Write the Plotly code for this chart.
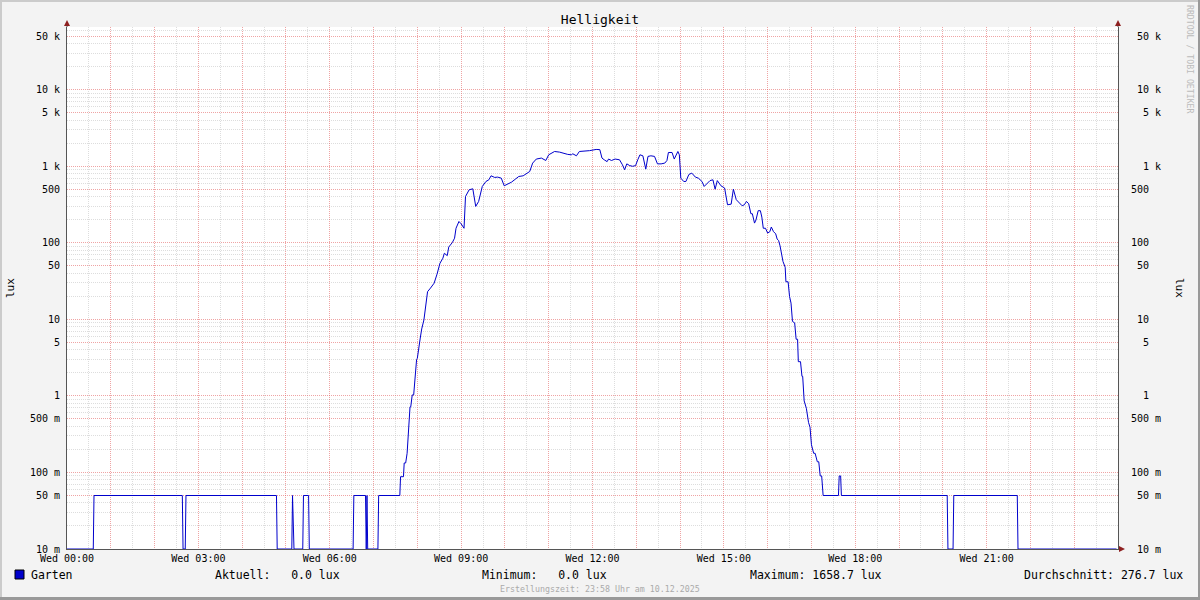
import numpy as np
import pandas as pd
import plotly.graph_objects as go

# Helligkeit (lux), Garten sensor, Wed 10.12.2025
DAY = "2025-12-10"
TIMES = [
    "00:00", "00:36", "00:37", "02:38", "02:39", "02:42", "02:43", "04:47", "04:48",
    "05:08", "05:09", "05:11", "05:23", "05:24", "05:31", "05:32", "06:32", "06:33",
    "06:49", "06:50", "06:51", "06:52", "07:06", "07:07", "07:36", "07:37", "07:41",
    "07:42", "07:44", "07:46", "07:50", "07:51", "07:53", "07:55", "07:59", "08:00",
    "08:04", "08:06", "08:09", "08:12", "08:14", "08:18", "08:23", "08:27", "08:31",
    "08:35", "08:37", "08:41", "08:43", "08:48", "08:51", "08:53", "08:57", "09:00",
    "09:04", "09:06", "09:11", "09:16", "09:20", "09:24", "09:29", "09:34", "09:38",
    "09:41", "09:46", "09:50", "09:55", "09:59", "10:04", "10:09", "10:15", "10:19",
    "10:25", "10:30", "10:34", "10:38", "10:43", "10:50", "10:56", "11:00", "11:08",
    "11:15", "11:22", "11:26", "11:31", "11:33", "11:38", "11:42", "11:56", "12:05",
    "12:10", "12:13", "12:16", "12:20", "12:22", "12:26", "12:31", "12:37", "12:41",
    "12:44", "12:47", "12:51", "12:55", "12:59", "13:02", "13:05", "13:09", "13:13",
    "13:16", "13:20", "13:25", "13:29", "13:34", "13:39", "13:42", "13:44", "13:49",
    "13:52", "13:57", "13:59", "14:01", "14:05", "14:08", "14:12", "14:16", "14:21",
    "14:25", "14:30", "14:33", "14:38", "14:41", "14:45", "14:48", "14:51", "14:56",
    "15:01", "15:05", "15:10", "15:13", "15:17", "15:21", "15:25", "15:28", "15:31",
    "15:34", "15:37", "15:39", "15:42", "15:44", "15:47", "15:50", "15:52", "15:54",
    "15:57", "16:00", "16:03", "16:05", "16:08", "16:11", "16:13", "16:15", "16:17",
    "16:21", "16:24", "16:25", "16:28", "16:30", "16:32", "16:34", "16:37", "16:39",
    "16:41", "16:42", "16:45", "16:47", "16:48", "16:50", "16:53", "16:56", "16:58",
    "17:00", "17:03", "17:05", "17:08", "17:10", "17:12", "17:14", "17:16", "17:37",
    "17:38", "17:40", "17:41", "20:06", "20:07", "20:14", "20:15", "21:42", "21:43",
    "23:58",
]
LUX = [
    0, 0, 0.05, 0.05, 0, 0, 0.05, 0.05, 0,
    0, 0.05, 0, 0, 0.05, 0.05, 0, 0, 0.05,
    0.05, 0, 0.05, 0, 0, 0.05, 0.05, 0.088, 0.088,
    0.133, 0.133, 0.178, 0.72, 0.72, 1.03, 1.03, 3.0, 3.1,
    5.7, 7.5, 9.8, 18, 23, 25.6, 29.7, 39, 54,
    63, 73, 68, 88, 101, 115, 155, 190, 177,
    155, 403, 493, 508, 299, 347, 545, 633, 666,
    751, 715, 722, 700, 556, 590, 620, 687, 736,
    751, 815, 855, 1100, 1243, 1280, 1190, 1412, 1560,
    1530, 1455, 1430, 1412, 1455, 1370, 1560, 1600, 1658.7,
    1650, 1280, 1216, 1150, 1243, 1190, 1243, 1216, 1048,
    900, 1075, 1020, 1000, 1020, 1216, 1412, 1370, 918,
    1345, 1370, 1345, 1075, 1075, 1100, 1190, 1514, 1514,
    1243, 1560, 1412, 700, 633, 633, 780, 815, 722,
    700, 633, 545, 610, 650, 666, 502, 650, 556,
    520, 314, 320, 502, 366, 336, 305, 314, 347,
    324, 240, 240, 181, 199, 263, 263, 217, 155,
    155, 134, 140, 161, 140, 131, 112, 107, 91,
    57, 48, 31, 31, 19.9, 16.3, 9.4, 9.0, 5.5,
    5.5, 2.8, 2.8, 1.8, 1.8, 0.86, 0.69, 0.45, 0.39,
    0.23, 0.178, 0.178, 0.138, 0.138, 0.09, 0.09, 0.05, 0.05,
    0.09, 0.09, 0.05, 0.05, 0, 0, 0.05, 0.05, 0,
    0,
]

X_TICK_HOURS = list(range(24))
Y_TICKS = [0.01, 0.05, 0.1, 0.5, 1, 5, 10, 50, 100, 500, 1000, 5000, 10000, 50000]
Y_LABELS = ["10 m", "50 m", "100 m", "500 m", "1", "5", "10", "50",
            "100", "500", "1 k", "5 k", "10 k", "50 k"]
Y_RANGE_MAX = 66000

FONT = "DejaVu Sans Mono"
LINE_BLUE = "#0000CC"
MGRID = "rgba(225,90,90,0.55)"
GRID = "rgba(180,180,180,0.45)"
DOTS = "1px,1px"
AXIS = "#555555"
ARROW = "#8E2020"

# plot area in pixels
L, R, T, B = 67, 82, 27, 51
PW, PH = 1200 - L - R, 600 - T - B


def px(x):
    return (x - L) / PW


def py(y):
    return (600 - B - y) / PH


times = pd.to_datetime([f"{DAY} {t}" for t in TIMES])
lux = np.array(LUX, dtype=float)
lux_plot = np.maximum(lux, Y_TICKS[0])  # zero sits on the bottom edge

day0 = pd.Timestamp(DAY)
tickvals = [day0 + pd.Timedelta(hours=h) for h in X_TICK_HOURS]
ticktext = [(day0 + pd.Timedelta(hours=h)).strftime("%a %H:%M") if h % 3 == 0 else ""
            for h in X_TICK_HOURS]
minor_x = [day0 + pd.Timedelta(minutes=30 + 60 * h) for h in X_TICK_HOURS]

minor_y = [m * 10.0 ** e for e in range(-2, 5) for m in (2, 3, 4, 6, 7, 8, 9)
           if m * 10.0 ** e < Y_RANGE_MAX]


def pad(lbl):
    num = lbl.split(" ")[0]
    return "\u00a0" * (3 - len(num)) + lbl.replace(" ", "\u00a0")


fig = go.Figure()
fig.add_trace(go.Scatter(
    x=times, y=lux_plot, mode="lines",
    line=dict(color=LINE_BLUE, width=1),
    name="Garten", showlegend=False,
    hovertemplate="%{x|%H:%M}: %{y} lux<extra></extra>",
))
fig.add_trace(go.Scatter(
    x=times, y=lux_plot, mode="lines", yaxis="y2",
    line=dict(color="rgba(0,0,0,0)", width=0),
    showlegend=False, hoverinfo="skip",
))

yaxis_common = dict(
    type="log",
    range=[np.log10(Y_TICKS[0]), np.log10(Y_RANGE_MAX)],
    tickvals=Y_TICKS,
    ticks="",
    tickfont=dict(family=FONT, size=10, color="#000"),
    showline=True, linecolor=AXIS, linewidth=1,
    zeroline=False, fixedrange=True,
)

fig.update_layout(
    width=1200, height=600,
    margin=dict(l=L, r=R, t=T, b=B, pad=0),
    paper_bgcolor="#F3F3F3",
    plot_bgcolor="#FFFFFF",
    showlegend=False,
    title=dict(text="Helligkeit", x=0.5, xref="container", xanchor="center",
               y=1 - 19 / 600, yref="container", yanchor="middle",
               font=dict(family=FONT, size=13, color="#000")),
    xaxis=dict(
        type="date",
        range=[day0, day0 + pd.Timedelta(hours=24)],
        tickmode="array", tickvals=tickvals, ticktext=ticktext,
        ticks="", tickfont=dict(family=FONT, size=10, color="#000"),
        showgrid=True, gridcolor=MGRID, griddash=DOTS, gridwidth=1,
        minor=dict(tickmode="array", tickvals=minor_x, showgrid=True,
                   gridcolor=GRID, griddash=DOTS, gridwidth=1),
        showline=True, linecolor=AXIS, linewidth=1,
        zeroline=False, fixedrange=True,
    ),
    yaxis=dict(
        **yaxis_common,
        ticktext=Y_LABELS,
        ticklabelstandoff=4,
        showgrid=True, gridcolor=MGRID, griddash=DOTS, gridwidth=1,
        minor=dict(tickvals=minor_y, showgrid=True, gridcolor=GRID,
                   griddash=DOTS, gridwidth=1),
    ),
    yaxis2=dict(
        **yaxis_common,
        ticktext=[pad(s) for s in Y_LABELS],
        overlaying="y", side="right",
        ticklabelstandoff=10,
        showgrid=False,
    ),
)

shapes = []
# 3d frame around the image
for x0, y0, x1, y1, c in [
    (0, 0, 1200, 2, "#CBCBCB"), (0, 0, 2, 600, "#CBCBCB"),
    (0, 597, 1200, 600, "#999999"), (1198, 0, 1200, 600, "#999999"),
]:
    shapes.append(dict(type="rect", xref="paper", yref="paper",
                       x0=px(x0), x1=px(x1), y0=py(y0), y1=py(y1),
                       fillcolor=c, line_width=0, layer="above"))

# axis arrows
for ax in (L, 1200 - R):
    shapes.append(dict(type="line", xref="paper", yref="paper",
                       x0=px(ax), x1=px(ax), y0=py(T), y1=py(T - 2),
                       line=dict(color=AXIS, width=1)))
    shapes.append(dict(type="path", xref="paper", yref="paper",
                       path=f"M{px(ax - 3)},{py(26)} L{px(ax + 3)},{py(26)} "
                            f"L{px(ax)},{py(20)} Z",
                       fillcolor=ARROW, line_width=0))
shapes.append(dict(type="line", xref="paper", yref="paper",
                   x0=px(1200 - R), x1=px(1121), y0=0, y1=0,
                   line=dict(color=AXIS, width=1)))
shapes.append(dict(type="path", xref="paper", yref="paper",
                   path=f"M{px(1119)},{py(546)} L{px(1119)},{py(552)} "
                        f"L{px(1125)},{py(549)} Z",
                   fillcolor=ARROW, line_width=0))

# legend swatch
shapes.append(dict(type="rect", xref="paper", yref="paper",
                   x0=px(15), x1=px(24), y0=py(579), y1=py(570),
                   fillcolor=LINE_BLUE, line=dict(color="#000", width=1)))
fig.update_layout(shapes=shapes)


def note(text, x, y, size=11.5, color="#000", anchor="left", angle=0):
    fig.add_annotation(text=text, xref="paper", yref="paper", x=px(x), y=py(y),
                       xanchor=anchor, yanchor="middle", showarrow=False,
                       textangle=angle,
                       font=dict(family=FONT, size=size, color=color))


nb = "\u00a0"
note("Garten", 29, 575)
note(f"Aktuell:{nb * 3}0.0{nb}lux", 213, 575)
note(f"Minimum:{nb * 3}0.0{nb}lux", 480, 575)
note(f"Maximum:{nb}1658.7{nb}lux", 748, 575)
note(f"Durchschnitt:{nb}276.7{nb}lux", 1022, 575)
note("Erstellungszeit: 23:58 Uhr am 10.12.2025", 600, 589, size=8.3,
     color="#AAAAAA", anchor="center")
note("lux", 10, 288, size=11, anchor="center", angle=-90)
note("lux", 1180, 288, size=11, anchor="center", angle=90)
note("RRDTOOL / TOBI OETIKER", 1190, 59, size=8.2, color="#BBBBBB",
     anchor="center", angle=90)

# the page body has a default 8px margin; drop it so the figure fills the window
fig.write_html("out.html", config={"displayModeBar": False},
               post_script="document.body.style.margin='0px';")
